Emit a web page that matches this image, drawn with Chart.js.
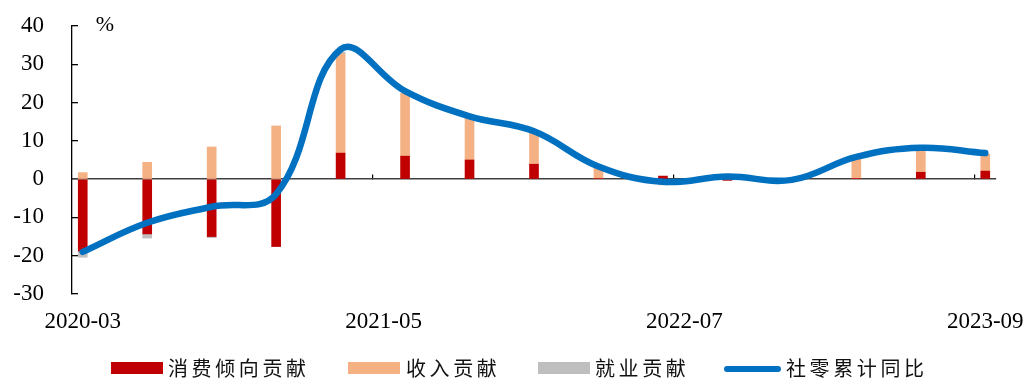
<!DOCTYPE html>
<html>
<head>
<meta charset="utf-8">
<script src="https://cdn.jsdelivr.net/npm/chart.js@4"></script>
<style>
  body { margin: 0; background: #fff; }
  #wrap { position: relative; width: 1027px; height: 378px; }
  #legend { position: absolute; left: 0; top: 0; width: 1027px; height: 378px; pointer-events: none;
    font-family: "Noto Sans CJK SC", sans-serif; font-size: 20px; color: #111; }
  .sw { position: absolute; top: 362px; width: 52px; height: 12px; }
  .ln { position: absolute; top: 366px; width: 57px; height: 6px; border-radius: 3px; background: #0070C0; }
  .tx { position: absolute; top: 354px; letter-spacing: 3.6px; line-height: 28px; white-space: nowrap; }
</style>
</head>
<body>
<div id="wrap">
  <canvas id="chart" width="1027" height="378"></canvas>
  <div id="legend">
    <div class="sw" style="left:111px;background:#C00000"></div><div class="tx" style="left:168px">消费倾向贡献</div>
    <div class="sw" style="left:348px;background:#F4B183"></div><div class="tx" style="left:406px">收入贡献</div>
    <div class="sw" style="left:538px;background:#BFBFBF"></div><div class="tx" style="left:595px">就业贡献</div>
    <div class="ln" style="left:724px"></div><div class="tx" style="left:786px">社零累计同比</div>
  </div>
</div>
<script>
// quarterly points
const quarters = ["2020-03", "2020-06", "2020-09", "2020-12", "2021-03", "2021-06", "2021-09", "2021-12",
  "2022-03", "2022-06", "2022-09", "2022-12", "2023-03", "2023-06", "2023-09"];

const propensity = [-18.8, -14.3, -15.0, -17.6, 6.8, 6.0, 5.0, 3.9, 0.2, 0.8, -0.3, -0.1, 0.2, 1.8, 2.1];
const income = [1.7, 4.4, 8.4, 13.9, 25.9, 16.4, 10.9, 8.1, 3.0, -1.2, 1.0, 0.1, 5.0, 6.0, 4.4];
const employment = [-1.6, -1.1, -0.3, 0, 0.5, 0, 0, 0, 0, -0.3, 0, 0, 0, 0, 0];
const retailYoY = [-19.0, -11.4, -7.2, -3.9, 33.9, 23.0, 16.4, 12.5, 3.3, -0.7, 0.7, -0.2, 5.8, 8.2, 6.8];

const shownTicks = ["2020-03", "2021-05", "2022-07", "2023-09"];

// monthly axis from first to last quarter
const months = [];
for (let y = 2020, m = 3; y < 2023 || (y === 2023 && m <= 9); m++) {
  if (m > 12) { m = 1; y++; }
  months.push(y + "-" + String(m).padStart(2, "0"));
}

const pts = (arr) => arr.map((v, i) => ({ x: quarters[i], y: v }));

const serif = "'Liberation Serif', 'Times New Roman', serif";

const percentLabel = {
  id: "percentLabel",
  afterDraw(chart) {
    const c = chart.ctx;
    c.save();
    c.font = "22px " + serif;
    c.fillStyle = "#000";
    c.textAlign = "center";
    c.textBaseline = "middle";
    c.fillText("%", chart.chartArea.left + 33, chart.scales.y.getPixelForValue(40) - 1);
    c.restore();
  }
};

new Chart(document.getElementById("chart"), {
  type: "bar",
  data: {
    labels: months,
    datasets: [
      { label: "消费倾向贡献", data: pts(propensity), backgroundColor: "#C00000", barThickness: 9, stack: "a", order: 1 },
      { label: "收入贡献", data: pts(income), backgroundColor: "#F4B183", barThickness: 9, stack: "a", order: 1 },
      { label: "就业贡献", data: pts(employment), backgroundColor: "#BFBFBF", barThickness: 9, stack: "a", order: 1 },
      {
        type: "line", label: "社零累计同比", data: pts(retailYoY), stack: "line", order: 0,
        borderColor: "#0070C0", borderWidth: 6.5, pointRadius: 0, tension: 0.4,
        borderCapStyle: "round", borderJoinStyle: "round", fill: false
      }
    ]
  },
  options: {
    responsive: false,
    animation: false,
    layout: { padding: { left: 0, right: 31, top: 26, bottom: 44 } },
    plugins: { legend: { display: false }, tooltip: { enabled: false } },
    scales: {
      x: {
        type: "category",
        stacked: true,
        offset: true,
        grid: { display: false, drawTicks: false },
        border: { display: false },
        ticks: {
          autoSkip: false, maxRotation: 0, padding: 14,
          color: "#000", font: { family: serif, size: 23 },
          callback: function (v, i) {
            const lab = this.getLabelForValue(v);
            return shownTicks.includes(lab) ? lab : "";
          }
        },
        afterFit: (s) => { s.height = 40; s.paddingLeft = 0; s.paddingRight = 0; }
      },
      x2: {
        type: "category",
        position: { y: 0 },
        offset: true,
        grid: {
          offset: true, drawOnChartArea: false, tickLength: -5, lineWidth: 1.2,
          color: (ctx) => (ctx.index === 14 || ctx.index === 28 || ctx.index === 42) ? "#000" : "rgba(0,0,0,0)"
        },
        border: { display: true, color: "#404040", width: 1.5 },
        ticks: { display: false },
        afterFit: (s) => { s.height = 0; s.paddingLeft = 0; s.paddingRight = 0; }
      },
      y: {
        stacked: true,
        min: -30,
        max: 40,
        ticks: { stepSize: 10, padding: 34, color: "#000", font: { family: serif, size: 23 } },
        grid: { drawOnChartArea: false, tickLength: -6, color: "#000", lineWidth: 1.3 },
        border: { display: true, color: "#000", width: 1.3 },
        afterFit: (s) => { s.width = 72; s.paddingTop = 0; s.paddingBottom = 0; }
      }
    }
  },
  plugins: [percentLabel]
});
</script>
</body>
</html>
